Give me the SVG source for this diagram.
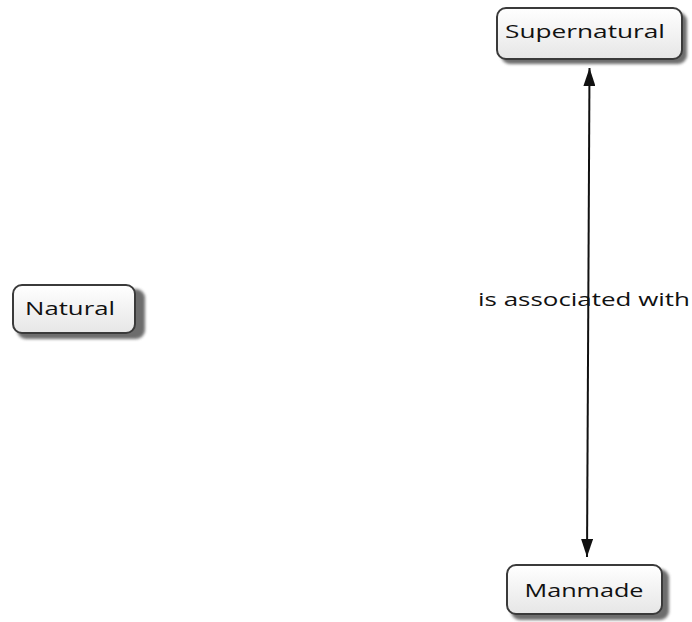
<svg xmlns="http://www.w3.org/2000/svg" width="692" height="622" viewBox="0 0 692 622">
  <style>
    .box { fill: url(#boxFill); stroke: #3a3a3a; stroke-width: 2; }
    .shadow { fill: #4a4a4a; opacity: 0.8; filter: url(#soft); }
    .lbl { font-family: "Open Sans", "DejaVu Sans", sans-serif; font-size: 19px; fill: #111; }
    .link { stroke: #111; stroke-width: 2; fill: none; }
  </style>
  <defs>
    <linearGradient id="boxFill" x1="0" y1="0" x2="0" y2="1">
      <stop offset="0" stop-color="#ffffff"/>
      <stop offset="1" stop-color="#e6e6e6"/>
    </linearGradient>
    <filter id="soft" x="-10%" y="-20%" width="130%" height="160%">
      <feGaussianBlur stdDeviation="1.6"/>
    </filter>
    <marker id="arrow" viewBox="0 0 18 12" refX="18" refY="6" markerWidth="18" markerHeight="12" markerUnits="userSpaceOnUse" orient="auto-start-reverse">
      <path d="M0,0 L18,6 L0,12 Z" fill="#111"/>
    </marker>
  </defs>

  <g id="connectors">
    <line class="link" x1="589.5" y1="68" x2="587" y2="557" marker-start="url(#arrow)" marker-end="url(#arrow)"/>
    <text class="lbl" x="584" y="306" text-anchor="middle" textLength="212" lengthAdjust="spacingAndGlyphs" font-size="18">is associated with</text>
  </g>

  <g id="supernatural">
    <rect class="shadow" x="501" y="12" width="186" height="52" rx="9"/>
    <rect class="box" x="497" y="8" width="185" height="51" rx="9"/>
    <text class="lbl" x="585" y="38" text-anchor="middle" textLength="160" lengthAdjust="spacingAndGlyphs">Supernatural</text>
  </g>

  <g id="natural">
    <rect class="shadow" x="17" y="289" width="128" height="50" rx="9"/>
    <rect class="box" x="13" y="285" width="122" height="48" rx="9"/>
    <text class="lbl" x="70" y="315" text-anchor="middle" textLength="90" lengthAdjust="spacingAndGlyphs">Natural</text>
  </g>

  <g id="manmade">
    <rect class="shadow" x="511" y="569" width="158" height="51" rx="9"/>
    <rect class="box" x="507" y="565" width="155" height="49" rx="9"/>
    <text class="lbl" x="584" y="597" text-anchor="middle" textLength="119" lengthAdjust="spacingAndGlyphs">Manmade</text>
  </g>
</svg>
